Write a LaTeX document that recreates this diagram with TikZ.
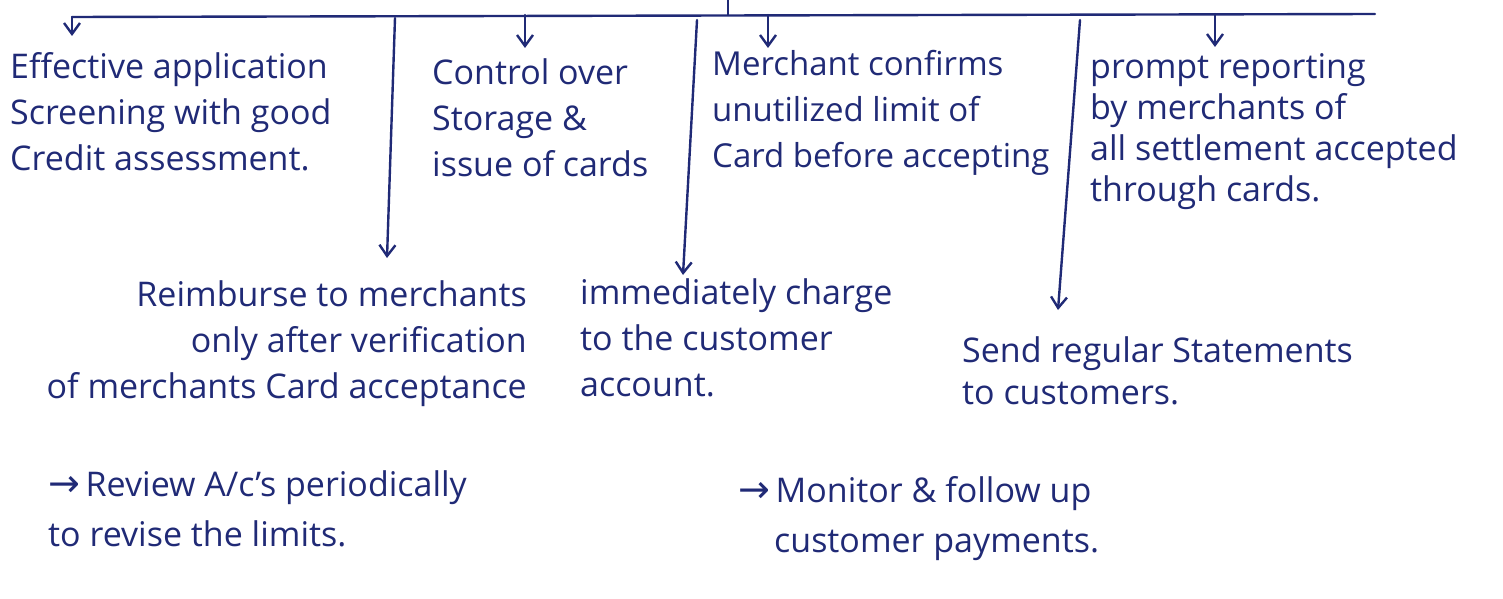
\documentclass[tikz,border=0pt]{standalone}
\usepackage{fontspec}
\setmainfont{Open Sans}
\newfontfamily\arrfont{DejaVu Sans}
\usetikzlibrary{arrows.meta}
\definecolor{ink}{RGB}{32,42,118}
\tikzset{
  txt/.style={inner sep=0pt, text=ink, font=\fontsize{34}{46}\selectfont, align=left},
  wire/.style={draw=ink, line width=2.4pt, line cap=round},
  arr/.style={wire, -{Straight Barb[length=11pt,width=16pt,line width=2.4pt]}},
}
\newcommand{\harr}{{\arrfont\fontsize{38}{38}\selectfont →}\,}
\begin{document}
\begin{tikzpicture}[x=1pt,y=-1pt]
\useasboundingbox (0,0) rectangle (1503,599);
% texts
\node[txt, anchor=north west] (n1) at (10,52) {Effective application\\Screening with good\\Credit assessment.};
\node[txt, anchor=north west] (n2) at (432,58) {Control over\\Storage \&\\issue of cards};
\node[txt, anchor=north west, font=\fontsize{33}{46}\selectfont] (n3) at (712,50) {Merchant confirms\\unutilized limit of\\Card before accepting};
\node[txt, anchor=north west, font=\fontsize{34}{41}\selectfont] (n4) at (1090,53) {prompt reporting\\by merchants of\\all settlement accepted\\through cards.};
\node[txt, anchor=north east, align=right] (n5) at (527,280) {Reimburse to merchants\\only after verification\\of merchants Card acceptance};
\node[txt, anchor=north west] (n6) at (580,278) {immediately charge\\to the customer\\account.};
\node[txt, anchor=north west, font=\fontsize{34}{42}\selectfont] (n7) at (962,336) {Send regular Statements\\to customers.};
\node[txt, anchor=north west, font=\fontsize{34}{50}\selectfont] (n8) at (48,470) {\harr Review A/c's periodically\\to revise the limits.};
\node[txt, anchor=north west, font=\fontsize{34}{50}\selectfont] (n9) at (738,476) {\harr Monitor \& follow up\\\hspace*{36pt}customer payments.};
% bus
\coordinate (top) at (728,0);
\coordinate (bl) at (72,17);
\coordinate (br) at (1375,14);
\coordinate (bm) at (728,15);
\draw[wire] (bl) -- (br);
\draw[wire] (top) -- (bm);
% short arrows
\coordinate (a1) at (72,17);
\coordinate (a2) at (525,15);
\coordinate (a3) at (768,15);
\coordinate (a4) at (1215,14);
\draw[arr] (a1) -- ([yshift=16pt]n1.north west -| a1);
\draw[arr] (a2) -- ([yshift=10pt]n2.north -| a2);
\draw[arr] (a3) -- ([yshift=2pt]n3.north -| a3);
\draw[arr] (a4) -- ([yshift=6pt]n4.north -| a4);
% long arrows
\coordinate (b2) at (395,18);
\coordinate (b3) at (697,20);
\coordinate (b4) at (1080,20);
\coordinate (e2) at (387,258);
\coordinate (e3) at (683,275);
\coordinate (e4) at (1058,310);
\draw[arr] (b2) -- (e2);
\draw[arr] (b3) -- (e3);
\draw[arr] (b4) -- (e4);
\end{tikzpicture}
\end{document}
